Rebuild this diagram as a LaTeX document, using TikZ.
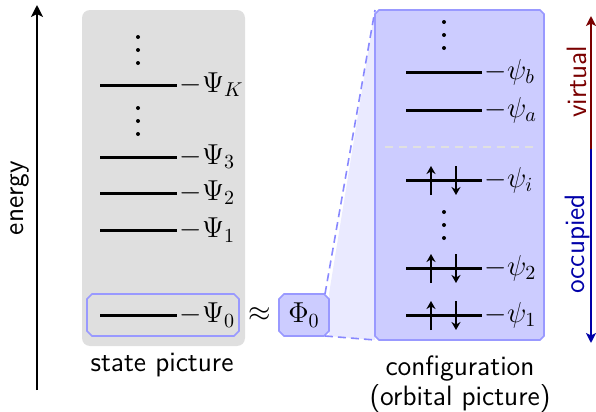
\documentclass[tikz,border=0pt]{standalone}
\usetikzlibrary{arrows.meta,backgrounds}
\definecolor{bfill}{HTML}{CCCCFF}
\definecolor{bedge}{HTML}{9999FF}
\definecolor{bdash}{HTML}{8888FF}
\definecolor{lav}{HTML}{EAEAFF}
\definecolor{panelgray}{HTML}{DFDFDF}
\definecolor{virtred}{HTML}{7A0000}
\definecolor{occblue}{HTML}{0000A8}
\newcommand\bevelpath[2]{([xshift=#2]#1.north west) -- ([xshift=-#2]#1.north east) -- ([yshift=-#2]#1.north east) -- ([yshift=#2]#1.south east) -- ([xshift=-#2]#1.south east) -- ([xshift=#2]#1.south west) -- ([yshift=#2]#1.south west) -- ([yshift=-#2]#1.north west) -- cycle}
\begin{document}
\begin{tikzpicture}[x=0.5pt,y=-0.5pt,
  font=\fontsize{14}{15}\selectfont,
  level/.style={line width=1.5pt},
  lab/.style={anchor=west,inner sep=0.6pt},
  spin/.style={line width=1pt,-{Stealth[length=4pt,width=4.5pt]}},
  boxframe/.style={draw=bedge,line width=0.8pt},
  sizebox/.style={inner sep=0pt,outer sep=0pt},
  sftext/.style={font=\fontsize{14}{15}\sffamily\selectfont}]
\useasboundingbox (0,0) rectangle (596,412);

% energy axis
\coordinate (ebot) at (37,390);
\coordinate (etop) at (37,5);
\draw[line width=1.25pt,-{Stealth[length=6pt,width=6pt,inset=1.5pt]}] (ebot) -- (etop);
\node[sftext,rotate=90] (energy) at (20,198) {energy};

% state panel
\node[fill=panelgray,rounded corners=4pt,minimum width=81.5pt,minimum height=168pt,sizebox] (panel) at (163.5,178) {};
\node[sizebox,minimum width=76pt,minimum height=21pt] (psi0box) at (163,315) {};
\draw[boxframe] \bevelpath{psi0box}{2.5pt};

% vertical dots (state picture)
\foreach \x/\y in {138/50,138/121}{
  \foreach \d in {-13,0,13}{\fill (\x,\y+\d) circle[radius=1pt];}
}

\draw[level] (100,85) -- (177,85) node[lab] (lK) {$-\Psi_K$};
\draw[level] (100,157) -- (177,157) node[lab] (l3) {$-\Psi_3$};
\draw[level] (100,193) -- (177,193) node[lab] (l2) {$-\Psi_2$};
\draw[level] (100,230) -- (177,230) node[lab] (l1) {$-\Psi_1$};
\draw[level] (100,315) -- (177,315) node[lab] (l0) {$-\Psi_0$};

\node[sftext] (statelab) at (162,365) {state picture};

\node (approx) at (260,315) {$\approx$};

% Phi0 box and configuration box
\node[sizebox,minimum width=25pt,minimum height=21pt] (phibox) at (304,315) {};
\node[sizebox,minimum width=84.5pt,minimum height=165pt] (conf) at (459.5,175) {};

\fill[lav] (phibox.north east) -- (conf.north west) -- (conf.south west) -- (phibox.south east) -- cycle;
\draw[boxframe,fill=bfill] \bevelpath{phibox}{2.5pt};
\draw[boxframe,fill=bfill] \bevelpath{conf}{2pt};
\node (phi) at (phibox.center) {$\Phi_0$};

\draw[bdash,line width=0.8pt,dash pattern=on 4pt off 2.5pt] ([xshift=-2pt]phibox.north east) -- (conf.north west);
\draw[bdash,line width=0.8pt,dash pattern=on 4pt off 2.5pt] ([xshift=-2pt]phibox.south east) -- (conf.south west);

% vertical dots (configuration)
\foreach \x/\y in {444/35,444/225}{
  \foreach \d in {-13,0,13}{\fill (\x,\y+\d) circle[radius=1pt];}
}
\draw[level] (406,72) -- (482,72) node[lab] (lb) {$-\psi_b$};
\draw[level] (406,110) -- (482,110) node[lab] (la) {$-\psi_a$};
\coordinate (sepL) at (385,147);
\coordinate (sepR) at (535,147);
\draw[black!12,line width=0.8pt,dash pattern=on 4pt off 3pt] (sepL) -- (sepR);
\draw[level] (406,180) -- (482,180) node[lab] (li) {$-\psi_i$};
\draw[level] (406,268) -- (482,268) node[lab] (l2o) {$-\psi_2$};
\draw[level] (406,315) -- (482,315) node[lab] (l1o) {$-\psi_1$};

\foreach \y in {180,268,315}{
  \draw[spin] (431,\y+15) -- (431,\y-14);
  \draw[spin] (456,\y-14) -- (456,\y+15);
}

\node[sftext,align=center] (conflab) at (460,384) {configuration\\(orbital picture)};

% virtual / occupied
\coordinate (vo) at (591,149);
\coordinate (vtop) at (591,16);
\coordinate (obot) at (591,343);
\draw[virtred,line width=1pt,-{Stealth[length=5pt,width=5pt,inset=1.2pt]}] (vo) -- (vtop);
\draw[occblue,line width=1pt,-{Stealth[length=5pt,width=5pt,inset=1.2pt]}] (vo) -- (obot);
\node[sftext,rotate=90,text=virtred] (virt) at (577,82) {virtual};
\node[sftext,rotate=90,text=occblue] (occ) at (577,244) {occupied};
\end{tikzpicture}
\end{document}
